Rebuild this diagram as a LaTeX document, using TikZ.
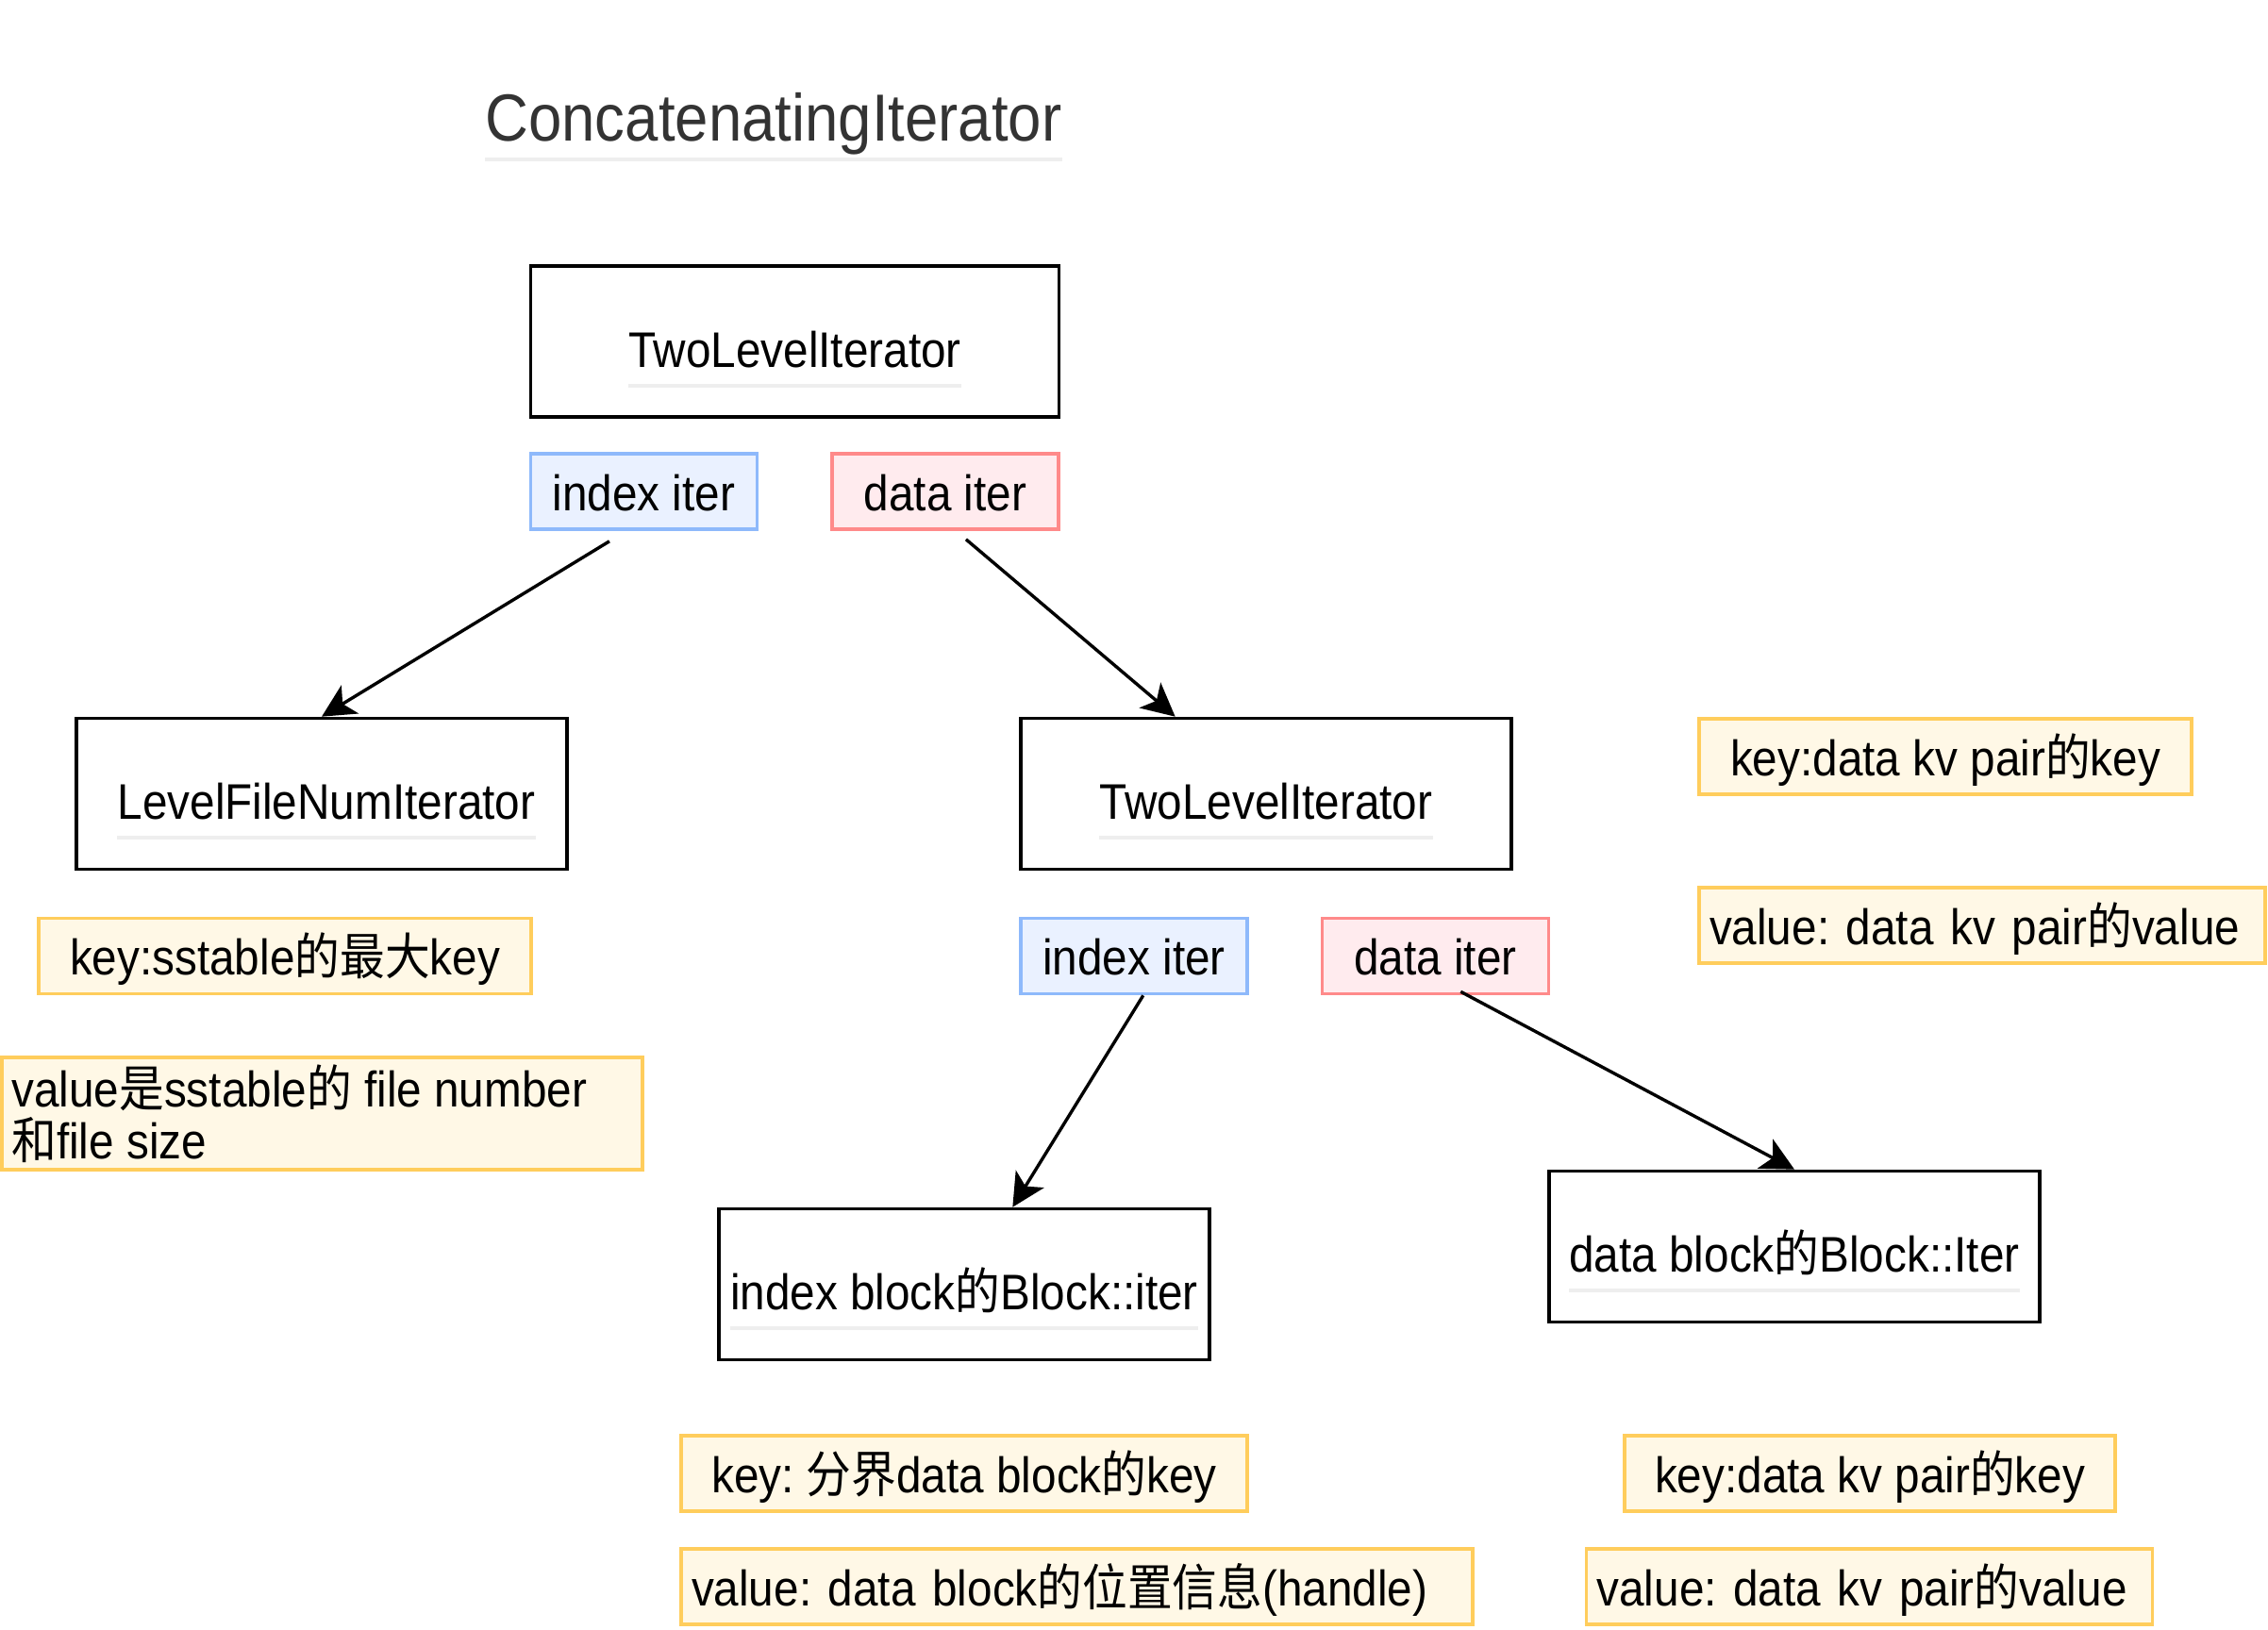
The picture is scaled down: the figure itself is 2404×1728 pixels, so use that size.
\documentclass[tikz,border=0pt]{standalone}
\usepackage{fontspec}
\setmainfont[FakeStretch=0.9]{Liberation Sans}
\newfontfamily\cjk[FakeStretch=0.9]{Noto Sans CJK SC}
\newcommand\myzh[1]{{\cjk #1}}
\frenchspacing
\usetikzlibrary{arrows.meta,calc}
\definecolor{bluefill}{HTML}{EAF1FF}
\definecolor{bluedraw}{HTML}{8EB9FB}
\definecolor{redfill}{HTML}{FFEBEE}
\definecolor{reddraw}{HTML}{FF8A8A}
\definecolor{yelfill}{HTML}{FFF8E6}
\definecolor{yeldraw}{HTML}{FFCD5C}
\definecolor{titlegray}{HTML}{333333}
\definecolor{ulgray}{HTML}{EEEEEE}
\tikzset{
  bodyfont/.style={font=\fontsize{26.5pt}{27.5pt}\selectfont},
  bigbox/.style={draw=black, line width=1.8pt, minimum width=260pt, minimum height=80pt, inner sep=0pt},
  bigtext/.style={bodyfont, anchor=base, inner sep=0pt},
  uline/.style={draw=ulgray, line width=2pt},
  tag/.style={bodyfont, line width=1.8pt, minimum height=40pt, inner sep=0pt, text height=21pt, text depth=1pt},
  bluetag/.style={tag, draw=bluedraw, fill=bluefill, minimum width=120pt},
  redtag/.style={tag, draw=reddraw, fill=redfill, minimum width=120pt},
  keybox/.style={tag, draw=yeldraw, fill=yelfill},
  valbox/.style={tag, draw=yeldraw, fill=yelfill, inner xsep=5.5pt, align=left},
  conn/.style={draw=black, line width=1.7pt, -{Stealth[length=17.5pt, width=17.5pt, inset=4.5pt]}}
}
\begin{document}
\begin{tikzpicture}[x=0.5pt, y=-0.5pt]
\useasboundingbox (0,0) rectangle (2404,1728);

% title
\node[anchor=base west, inner sep=0pt, text=titlegray, font=\fontsize{35.3pt}{40pt}\selectfont] (title) at (514,150) {ConcatenatingIterator};
\draw[uline] ([yshift=-9.5pt]title.base west) -- ([yshift=-9.5pt]title.base east);

% big boxes
\node[bigbox, minimum width=280pt] (tli1) at (842.5,362) {};
\node[bigtext] (tli1t) at (842.5,389) {TwoLevelIterator};
\draw[uline] ([yshift=-10pt]tli1t.base west) -- ([yshift=-10pt]tli1t.base east);

\node[bigbox] (lfn) at (341,841.5) {};
\node[bigtext] (lfnt) at (346,868) {LevelFileNumIterator};
\draw[uline] ([yshift=-10pt]lfnt.base west) -- ([yshift=-10pt]lfnt.base east);

\node[bigbox] (tli2) at (1342,841.5) {};
\node[bigtext] (tli2t) at (1342,868) {TwoLevelIterator};
\draw[uline] ([yshift=-10pt]tli2t.base west) -- ([yshift=-10pt]tli2t.base east);

\node[bigbox] (ib) at (1022,1361.5) {};
\node[bigtext] (ibt) at (1022,1388) {index block\myzh{的}Block::iter};
\draw[uline] ([yshift=-10pt]ibt.base west) -- ([yshift=-10pt]ibt.base east);

\node[bigbox] (db) at (1902,1321.5) {};
\node[bigtext] (dbt) at (1902,1348) {data block\myzh{的}Block::Iter};
\draw[uline] ([yshift=-10pt]dbt.base west) -- ([yshift=-10pt]dbt.base east);

% iter tags
\node[bluetag] (ii1) at (682.5,521) {index iter};
\node[redtag] (di1) at (1002,521) {data iter};
\node[bluetag] (ii2) at (1202,1013.5) {index iter};
\node[redtag] (di2) at (1521.5,1013.5) {data iter};

% key / value notes
\node[keybox, minimum width=261pt] (k1) at (302,1013.5) {key:sstable\myzh{的最大}key};
\node[draw=yeldraw, fill=yelfill, line width=1.8pt, minimum width=339.5pt, minimum height=59.5pt, inner sep=0pt] (v1) at (341.5,1180.5) {};
\node[bodyfont, anchor=west, align=left, inner sep=0pt] (v1t) at (12,1181) {value\myzh{是}sstable\myzh{的} file number\\\myzh{和}file size};

\node[keybox, minimum width=261pt] (kr) at (2062,802) {key:data kv pair\myzh{的}key};
\node[valbox, text width=289pt] (vr) at (2101,981) {value: data kv pair\myzh{的}value};

\node[keybox, minimum width=300pt] (kb1) at (1022,1562) {key: \myzh{分界}data block\myzh{的}key};
\node[valbox, text width=408.5pt] (vb1) at (1141.5,1682) {value: data block\myzh{的位置信息}(handle)};

\node[keybox, minimum width=260pt] (kb2) at (1982,1562) {key:data kv pair\myzh{的}key};
\node[valbox, text width=289pt] (vb2) at (1981.5,1682) {value: data kv pair\myzh{的}value};

% connectors
\coordinate (s1) at ($(ii1.south west)!0.35!(ii1.south east)+(0,11)$);
\coordinate (s2) at ($(di1.south west)!0.59!(di1.south east)+(0,9)$);
\coordinate (s3) at ($(ii2.south west)!0.54!(ii2.south east)$);
\coordinate (s4) at ($(di2.south west)!0.61!(di2.south east)+(0,-4)$);
\draw[conn] (s1) -- (lfn.north);
\draw[conn] (s2) -- ($(tli2.north west)!0.316!(tli2.north east)$);
\draw[conn] (s3) -- ($(ib.north west)!0.598!(ib.north east)$);
\draw[conn] (s4) -- (db.north);
\end{tikzpicture}
\end{document}
